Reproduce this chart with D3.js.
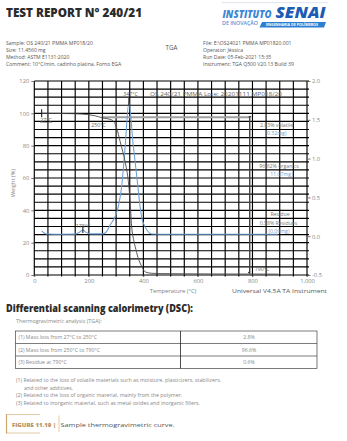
<!DOCTYPE html>
<html><head><meta charset="utf-8">
<script src="https://cdn.jsdelivr.net/npm/d3@7"></script>
<style>html,body{margin:0;padding:0;background:#fff;}svg{display:block;font-family:"Open Sans",sans-serif;}</style>
</head><body>
<script>
// ---- data ----
const tempTicks = [0, 200, 400, 600, 800, 1000];
const tempTickLabels = ["0", "200", "400", "600", "800", "1,000"];
const weightTicks = [0, 20, 40, 60, 80, 100, 120];
const derivTicks = [-0.5, 0.0, 0.5, 1.0, 1.5, 2.0];
const derivTickLabels = ["-0.5", "0.0", "0.5", "1.0", "1.5", "2.0"];

const weightTemp = [27, 100, 168, 220, 250, 284, 302, 315, 333, 345, 351, 357, 364, 370, 380, 388, 398, 406, 420, 431, 500, 600, 700, 790, 895];
const weightPct  = [100, 99.9, 99.6, 98.6, 97.2, 95.9, 91, 82.4, 70, 57.7, 46.4, 30, 22, 17.5, 11, 7.4, 4, 2.0, 1.3, 1.05, 0.8, 0.7, 0.62, 0.58, 0.55];

const derivTemp = [27, 35, 45, 100, 150, 165, 178, 190, 205, 250, 265, 278, 296, 308, 321, 333, 347, 362, 378, 388, 396, 405, 413, 431, 500, 895];
const derivVal  = [0.07, 0.045, 0.028, 0.025, 0.027, 0.05, 0.08, 0.05, 0.03, 0.03, 0.06, 0.144, 0.251, 0.38, 0.66, 1.15, 1.73, 1.2, 0.7, 0.38, 0.21, 0.13, 0.08, 0.028, 0.025, 0.025];

const stepTemp = [250, 790, 790];
const stepPct = [97.6, 97.6, 0.8];

const metaLeft = ["Sample: OS 240/21 PMMA MP018/20", "Size: 11.4560 mg", "Method: ASTM E1131:2020", "Comment: 10°C/min, cadinho platina, Forno EGA"];
const metaRight = ["File: E:\\OS24021 PMMA MP01820.001", "Operator: Jéssica", "Run Date: 05-Feb-2021 15:35", "Instrument: TGA Q500 V20.13 Build 39"];

const tableLabels = ["(1) Mass loss from 27°C to 250°C", "(2) Mass loss from 250°C to 790°C", "(3) Residue at 790°C"];
const tableValues = ["2.8%", "96.6%", "0.6%"];

const footnotes = ["(1) Related to the loss of volatile materials such as moisture, plasticizers, stabilizers,", "and other additives.", "(2) Related to the loss of organic material, mainly from the polymer.", "(3) Related to inorganic material, such as metal oxides and inorganic fillers."];

// ---- drawing ----
const W = 347, H = 441;
const svg = d3.select("body").append("svg").attr("width", W).attr("height", H);

function txt(g, x, y, s, size, opt = {}) {
  const t = g.append("text").attr("x", x).attr("y", y).text(s)
    .attr("font-size", size)
    .attr("fill", opt.fill || "#777")
    .attr("font-weight", opt.weight || 400)
    .attr("text-anchor", opt.anchor || "start");
  if (opt.style) t.attr("font-style", opt.style);
  if (opt.family) t.attr("font-family", opt.family);
  if (opt.width) t.attr("textLength", opt.width).attr("lengthAdjust", "spacingAndGlyphs");
  return t;
}

// Header
txt(svg, 6, 16.7, "TEST REPORT N° 240/21", 13, {fill: "#2b2b2b", weight: 800, width: 136});

// Logo
const logo = svg.append("g");
logo.append("rect").attr("x", 222).attr("y", 2).attr("width", 106).attr("height", 1.2).attr("fill", "#e4e8ee");
txt(logo, 222.5, 18, "INSTITUTO", 11, {fill: "#3b86d6", weight: 800, style: "italic", width: 49});
txt(logo, 275.5, 18.3, "SENAI", 16.5, {fill: "#1c5cb3", weight: 800, style: "italic", width: 50});
txt(logo, 222, 25.2, "DE INOVAÇÃO", 4.6, {fill: "#4f93da", weight: 600, width: 36});
logo.append("path").attr("d", "M262,22 L326,22 L324,27.5 L259.5,27.5 Z").attr("fill", "#2e7fd2");
txt(logo, 292, 26.2, "ENGENHARIA DE POLÍMEROS", 3.4, {fill: "#fff", weight: 700, anchor: "middle", width: 52});

// metadata
metaLeft.forEach((s, i) => txt(svg, 6, 44.6 + i * 7.1, s, 5.1, {fill: "#555"}));
metaRight.forEach((s, i) => txt(svg, 203, 44.6 + i * 7.1, s, 5.1, {fill: "#555"}));
txt(svg, 171.5, 49.8, "TGA", 6.2, {fill: "#555", anchor: "middle"});

// Chart
const x = d3.scaleLinear().domain([0, 1000]).range([34.3, 307]);
const yL = d3.scaleLinear().domain([0, 120]).range([275, 81]);
const yR = d3.scaleLinear().domain([-0.5, 2.0]).range([275, 81]);

const grid = svg.append("g");
d3.range(0, 1001, 50).forEach(t => {
  grid.append("line").attr("x1", x(t)).attr("x2", x(t)).attr("y1", yL(120)).attr("y2", yL(0) + 1.5)
    .attr("stroke", "#000").attr("stroke-width", 1.15);
});
d3.range(0, 121, 5).forEach(v => {
  grid.append("line").attr("x1", x(0)).attr("x2", x(1000) + 2).attr("y1", yL(v)).attr("y2", yL(v))
    .attr("stroke", "#000").attr("stroke-width", 1.15);
});

// left axis
const axL = svg.append("g").attr("transform", `translate(${x(0)},0)`)
  .call(d3.axisLeft(yL).tickValues(weightTicks).tickSize(3).tickPadding(2).tickFormat(d3.format("d")));
axL.select(".domain").remove();
axL.selectAll("line").attr("stroke", "#555").attr("stroke-width", 0.8);
axL.selectAll("text").attr("font-size", 5.8).attr("fill", "#888").attr("font-family", "Open Sans");

// right axis
const axR = svg.append("g").attr("transform", `translate(${x(1000)},0)`)
  .call(d3.axisRight(yR).tickValues(derivTicks).tickSize(3.5).tickPadding(1.5).tickFormat((d, i) => derivTickLabels[i]));
axR.select(".domain").remove();
axR.selectAll("line").attr("stroke", "#555").attr("stroke-width", 0.8);
axR.selectAll("text").attr("font-size", 5.8).attr("fill", "#888").attr("font-family", "Open Sans");

// bottom axis
const axB = svg.append("g").attr("transform", `translate(0,${yL(0)})`)
  .call(d3.axisBottom(x).tickValues(tempTicks).tickSize(1.5).tickPadding(2.5).tickFormat((d, i) => tempTickLabels[i]));
axB.select(".domain").remove();
axB.selectAll("line").attr("stroke", "#555");
axB.selectAll("text").attr("font-size", 5.8).attr("fill", "#888").attr("font-family", "Open Sans");

// step annotation lines
const stepLine = d3.line().x((d, i) => x(stepTemp[i])).y((d, i) => yL(stepPct[i]));
svg.append("path").attr("d", stepLine.x((d, i) => x(stepTemp[i])).y((d, i) => yL(stepPct[i]))(stepTemp.slice(0, 2)))
  .attr("fill", "none").attr("stroke", "#a0a0a0").attr("stroke-width", 2);
svg.append("line").attr("x1", x(790)).attr("x2", x(790)).attr("y1", yL(stepPct[1])).attr("y2", yL(stepPct[2]))
  .attr("stroke", "#444").attr("stroke-width", 1.4);
svg.append("line").attr("x1", x(790) - 1).attr("x2", x(790) + 1.5).attr("y1", yL(stepPct[1]) - 0.5).attr("y2", yL(stepPct[1]) - 0.5)
  .attr("stroke", "#333").attr("stroke-width", 1.2);
svg.append("path").attr("d", `M${x(790) - 2},${yL(stepPct[2]) - 1} l2,-2 l0,3 Z`).attr("fill", "#333");

// derivative curve
const dLine = d3.line().curve(d3.curveMonotoneX).x((d, i) => x(derivTemp[i])).y((d, i) => yR(derivVal[i]));
svg.append("path").attr("d", dLine(derivTemp)).attr("fill", "none").attr("stroke", "#6b9ed4").attr("stroke-width", 1.05);

// weight curve
const wLine = d3.line().curve(d3.curveMonotoneX).x((d, i) => x(weightTemp[i])).y((d, i) => yL(weightPct[i]));
svg.append("path").attr("d", wLine(weightTemp)).attr("fill", "none").attr("stroke", "#4a4a4a").attr("stroke-width", 0.9);

// markers
function vmark(xv, yv, h) {
  svg.append("line").attr("x1", xv).attr("x2", xv).attr("y1", yv - h).attr("y2", yv + h).attr("stroke", "#222").attr("stroke-width", 1.1);
}
vmark(x(27), yL(100), 4);
vmark(x(250), yL(97.2), 3.5);
vmark(x(347), yR(1.73), 4);
vmark(x(178), yR(0.08), 3);

// annotation texts
const ann = svg.append("g");
txt(ann, 46, 121.5, "27°C", 5.2, {fill: "#666", anchor: "middle"});
ann.append("line").attr("x1", 40).attr("x2", 52).attr("y1", 122.5).attr("y2", 122.5).attr("stroke", "#666").attr("stroke-width", 0.5);
txt(ann, 98.5, 126.5, "250°C", 5.2, {fill: "#666", anchor: "middle"});
txt(ann, 83, 227.5, "178°C", 5.2, {fill: "#666", anchor: "middle"});
txt(ann, 130.5, 95.5, "347°C", 5.2, {fill: "#666", anchor: "middle"});
txt(ann, 150, 95.5, "OS 240/21 PMMA Lote: 20201111 MP018/20", 5.2, {fill: "#666", width: 132});

txt(ann, 276.5, 127, "2.83% volatile", 5.2, {fill: "#777", anchor: "middle"});
txt(ann, 276, 135, "(0.32mg)", 5.2, {fill: "#7c9cc7", anchor: "middle"});
txt(ann, 279, 167.6, "96.62% organics", 5.2, {fill: "#777", anchor: "middle"});
txt(ann, 281.5, 176, "11.07mg)", 5.2, {fill: "#7c9cc7", anchor: "middle"});
txt(ann, 280, 215.8, "Residue", 5.2, {fill: "#777", anchor: "middle"});
txt(ann, 278.5, 224.5, "0.58% Residues", 5.2, {fill: "#777", anchor: "middle"});
txt(ann, 279, 232.5, "(0.06mg)", 5.2, {fill: "#7c9cc7", anchor: "middle"});
txt(ann, 262, 271, "790°C", 5.2, {fill: "#666", anchor: "middle"});

// axis titles
svg.append("text").attr("transform", "translate(14.5,183) rotate(-90)").attr("text-anchor", "middle")
  .attr("font-size", 5.8).attr("fill", "#888").text("Weight (%)");
txt(svg, 173, 292.5, "Temperature (°C)", 5.8, {fill: "#6d7f98", anchor: "middle"});
txt(svg, 279.5, 292.5, "Universal V4.5A TA Instrument", 5.8, {fill: "#555", anchor: "middle", width: 95});

// DSC heading
txt(svg, 6, 312, "Differential scanning calorimetry (DSC):", 9.6, {fill: "#2b2b2b", weight: 800, width: 187});
txt(svg, 16, 322.8, "Thermogravimetric analysis (TGA):", 5.4, {fill: "#888"});

// table
const tb = svg.append("g");
const rowY = [331, 343.5, 356, 368.5];
tb.append("rect").attr("x", 15.5).attr("y", rowY[0]).attr("width", 301.5).attr("height", rowY[3] - rowY[0])
  .attr("fill", "none").attr("stroke", "#444").attr("stroke-width", 0.7);
[1, 2].forEach(i => tb.append("line").attr("x1", 15.5).attr("x2", 317).attr("y1", rowY[i]).attr("y2", rowY[i]).attr("stroke", "#444").attr("stroke-width", 0.7));
tb.append("line").attr("x1", 180.5).attr("x2", 180.5).attr("y1", rowY[0]).attr("y2", rowY[3]).attr("stroke", "#222").attr("stroke-width", 0.8);
tableLabels.forEach((s, i) => {
  txt(tb, 18.5, (rowY[i] + rowY[i + 1]) / 2 + 1.9, s, 5.2, {fill: "#888"});
  txt(tb, 249, (rowY[i] + rowY[i + 1]) / 2 + 1.9, tableValues[i], 5.2, {fill: "#888", anchor: "middle"});
});

// footnotes
const fy = [382, 389.5, 397, 404.5];
footnotes.forEach((s, i) => txt(svg, i === 1 ? 24 : 16, fy[i], s, 5.3, {fill: "#888"}));

// caption
const cap = svg.append("g");
cap.append("rect").attr("x", 6.5).attr("y", 414.5).attr("width", 52.5).attr("height", 18.5).attr("fill", "none").attr("stroke", "#d6bd8e").attr("stroke-width", 0.8);
cap.append("rect").attr("x", 40).attr("y", 413.5).attr("width", 25).attr("height", 2).attr("fill", "#fff");
cap.append("rect").attr("x", 40).attr("y", 432).attr("width", 25).attr("height", 2).attr("fill", "#fff");
cap.append("line").attr("x1", 6.5).attr("x2", 6.5).attr("y1", 414).attr("y2", 433.5).attr("stroke", "#c9a86a").attr("stroke-width", 1.2);
txt(cap, 12, 427, "FIGURE 11.19 |", 5.9, {fill: "#b8905a", weight: 800, width: 44});
txt(cap, 60.5, 427, "Sample thermogravimetric curve.", 5.9, {fill: "#555", width: 114});
</script>
</body></html>
